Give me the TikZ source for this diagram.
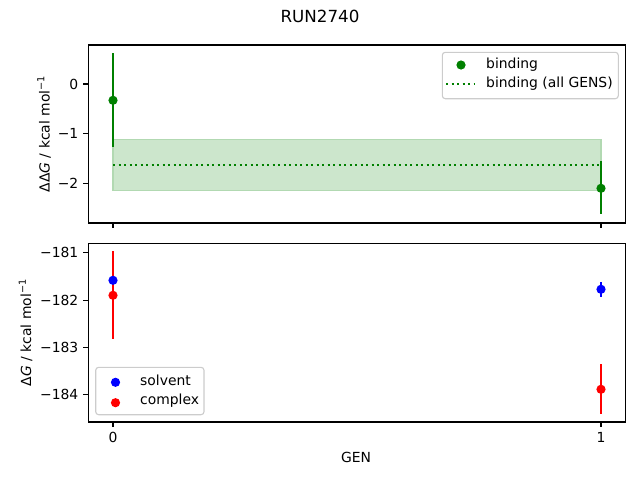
\documentclass[tikz,border=0pt]{standalone}
\usepackage{fontspec}
\setmainfont{DejaVu Sans}
\definecolor{mgreen}{RGB}{0,128,0}
\definecolor{mblue}{RGB}{0,0,255}
\definecolor{mred}{RGB}{255,0,0}
\definecolor{bandfill}{RGB}{204,230,204}
\definecolor{bandedge}{RGB}{178,217,178}
\definecolor{legedge}{RGB}{204,204,204}
\begin{document}
\begin{tikzpicture}[x=1pt,y=-1pt, font=\fontsize{13.9}{16}\selectfont,
  axisframe/.style={line width=1.1pt, black},
  tickmark/.style={line width=1.1pt, black},
  ticklabel/.style={inner sep=0pt},
  errbar/.style={line width=2.1pt},
  marker/.style={radius=4.6pt},
  legbox/.style={draw=legedge, line width=1.1pt, fill=white, fill opacity=0.8, rounded corners=3pt},
  dotline/.style={line width=2.1pt, dash pattern=on 2.1pt off 3.4pt}
]
\useasboundingbox (0,0) rectangle (640,480);
% ---------- Title
\node (title) at (320,16) {\fontsize{16.7}{19}\selectfont RUN2740};
% ---------- Top axes
\fill[bandfill] (113,139.7) rectangle (601,190.7);
\draw[bandedge, line width=1.4pt] (113,139.7) rectangle (601,190.7);
\draw[mgreen, dotline] (113,165) -- (601,165);
\draw[mgreen, errbar] (113,53.3) -- (113,146.7);
\draw[mgreen, errbar] (601,161) -- (601,214.3);
\fill[mgreen] (113,100.3) circle[marker];
\fill[mgreen] (601,188.3) circle[marker];
\draw[axisframe] (88.3,45) rectangle (625.7,223);
\foreach \yy in {84,133.7,183.3} \draw[tickmark] (88.3,\yy) -- (83.4,\yy);
\foreach \xx in {113,601} \draw[tickmark] (\xx,223) -- (\xx,227.9);
\node[ticklabel, anchor=east] (t0) at (78.5,84) {0};
\node[ticklabel, anchor=east] (t1) at (78.5,133.7) {−1};
\node[ticklabel, anchor=east] (t2) at (78.5,183.3) {−2};
\node[rotate=90] (ylab1) at (44,134) {ΔΔ\textit{G} / kcal mol\textsuperscript{−1}};
% top legend
\draw[legbox] (442.3,52.3) rectangle (618.3,98.7);
\fill[mgreen] (461,65) circle[marker];
\draw[mgreen, dotline] (446,84) -- (475,84);
\node[ticklabel, anchor=west] (l1) at (486,65) {binding};
\node[ticklabel, anchor=west] (l2) at (486,84) {binding (all GENS)};
% ---------- Bottom axes
\draw[mred, errbar] (113,251) -- (113,339.3);
\draw[mred, errbar] (601,364) -- (601,413.7);
\draw[mblue, errbar] (601,282.3) -- (601,296.7);
\fill[mblue] (113,280.3) circle[marker];
\fill[mblue] (601,289.3) circle[marker];
\fill[mred] (113,295.3) circle[marker];
\fill[mred] (601,389.3) circle[marker];
\draw[axisframe] (88.3,243.3) rectangle (625.7,422);
\foreach \yy in {252.3,300.3,347.3,394.3} \draw[tickmark] (88.3,\yy) -- (83.4,\yy);
\foreach \xx in {113,601} \draw[tickmark] (\xx,422) -- (\xx,426.9);
\node[ticklabel, anchor=east] (b1) at (78.5,252.3) {−181};
\node[ticklabel, anchor=east] (b2) at (78.5,300.3) {−182};
\node[ticklabel, anchor=east] (b3) at (78.5,347.3) {−183};
\node[ticklabel, anchor=east] (b4) at (78.5,394.3) {−184};
\node[ticklabel, anchor=north] (x0) at (113,432) {0};
\node[ticklabel, anchor=north] (x1) at (601,432) {1};
\node (xlab) at (356,457) {GEN};
\node[rotate=90] (ylab2) at (25.5,332.5) {Δ\textit{G} / kcal mol\textsuperscript{−1}};
% bottom legend
\draw[legbox] (95.7,367.3) rectangle (204,414.7);
\fill[mblue] (115.5,382.3) circle[marker];
\fill[mred] (115.5,402.7) circle[marker];
\node[ticklabel, anchor=west] (l3) at (140,380) {solvent};
\node[ticklabel, anchor=west] (l4) at (140,401) {complex};
\end{tikzpicture}
\end{document}
